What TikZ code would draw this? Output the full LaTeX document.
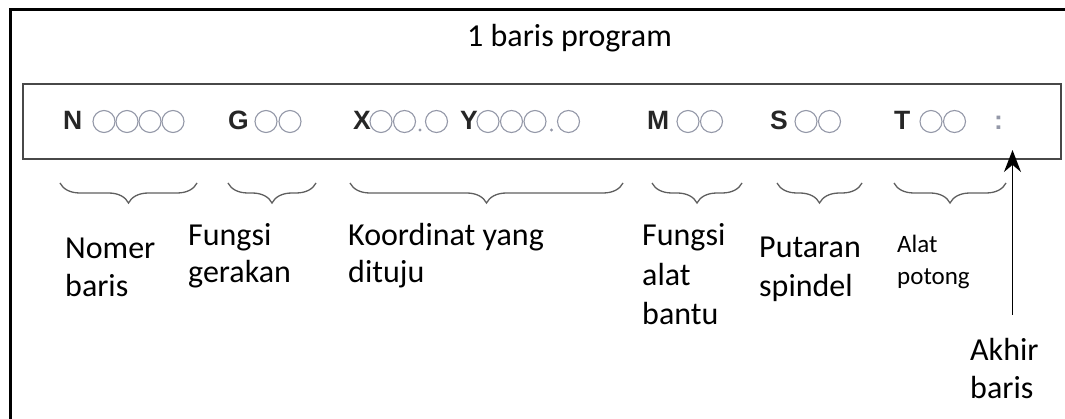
\documentclass[tikz,border=0pt]{standalone}
\usepackage{fontspec}
\setmainfont{Carlito}
\newfontfamily\codefont{Liberation Sans}
\usetikzlibrary{arrows.meta,decorations.pathreplacing}

\definecolor{ringgray}{RGB}{148,152,168}
\definecolor{boxgray}{RGB}{72,72,72}
\definecolor{bracegray}{RGB}{95,95,95}

\begin{document}
\begin{tikzpicture}[x=1pt,y=-1pt]
    \tikzstyle{field}=[anchor=base west, inner sep=0pt, text=black!85, font=\codefont\bfseries\fontsize{26.5}{30}\selectfont]
    \tikzstyle{ring}=[ringgray, line width=1.1pt]
    \tikzstyle{caption}=[anchor=base west, inner sep=0pt, align=left, font=\fontsize{32}{38}\selectfont]
    \tikzstyle{curly}=[bracegray, line width=1.3pt, decorate, decoration={brace, mirror, amplitude=20pt}]
    \tikzstyle{pointer}=[black, line width=1.6pt, -{Stealth[length=22pt, width=17pt]}]

    \useasboundingbox (0,0) rectangle (1065,419);
    \clip (0,0) rectangle (1065,419);

    % frame and program line
    \draw[line width=3pt] (10,425) -- (10,9.5) -- (1070,9.5);
    \draw[boxgray, line width=2pt] (23,84) rectangle (1061,159);

    \node[anchor=base, inner sep=0pt, font=\fontsize{32}{38}\selectfont] (title) at (569.5,47) {1 baris program};

    % addresses
    \node[field] (N) at (63,130) {N};
    \node[field] (G) at (228,130) {G};
    \node[field] (X) at (353,130) {X};
    \node[field] (Y) at (460,130) {Y};
    \node[field] (M) at (647,130) {M};
    \node[field] (S) at (770,130) {S};
    \node[field] (T) at (894,130) {T};
    \node[field, text=ringgray] (semi) at (994,130) {:};

    % digit places
    \foreach \cx in {104,127,150,173, 266,290, 381,404.5, 436.5, 488,511.5,535, 568.5, 688,711.5, 806,829.5, 931,954.5}
        \draw[ring] (\cx,121.5) circle (11pt);
    \fill[ringgray] (420,130) circle (1.6pt);
    \fill[ringgray] (551.5,130) circle (1.6pt);

    % braces under each word
    \draw[curly] (60,183) -- (197,183);
    \draw[curly] (228,183) -- (316,183);
    \draw[curly] (350,183) -- (623,183);
    \draw[curly] (652,183) -- (742,183);
    \draw[curly] (777,183) -- (862,183);
    \draw[curly] (894,183) -- (1006,183);

    % meanings (anchored on the last line)
    \node[caption] (nomer) at (65,297) {Nomer\\baris};
    \node[caption, font=\fontsize{32}{37}\selectfont] (gerak) at (188,283) {Fungsi\\gerakan};
    \node[caption, font=\fontsize{32}{37}\selectfont] (koord) at (348,283) {Koordinat yang\\dituju};
    \node[caption, font=\fontsize{32}{39.5}\selectfont] (bantu) at (642,325) {Fungsi\\alat\\bantu};
    \node[caption, font=\fontsize{32}{39}\selectfont] (spindel) at (759,297) {Putaran\\spindel};
    \node[caption, font=\fontsize{25}{32}\selectfont] (alat) at (897,285) {Alat\\potong};
    \node[caption] (akhir) at (970,398) {Akhir\\baris};

    \coordinate (tail) at (1012.5,315);
    \coordinate (tip) at (1012.5,150);
    \draw[pointer] (tail) -- (tip);
\end{tikzpicture}
\end{document}
